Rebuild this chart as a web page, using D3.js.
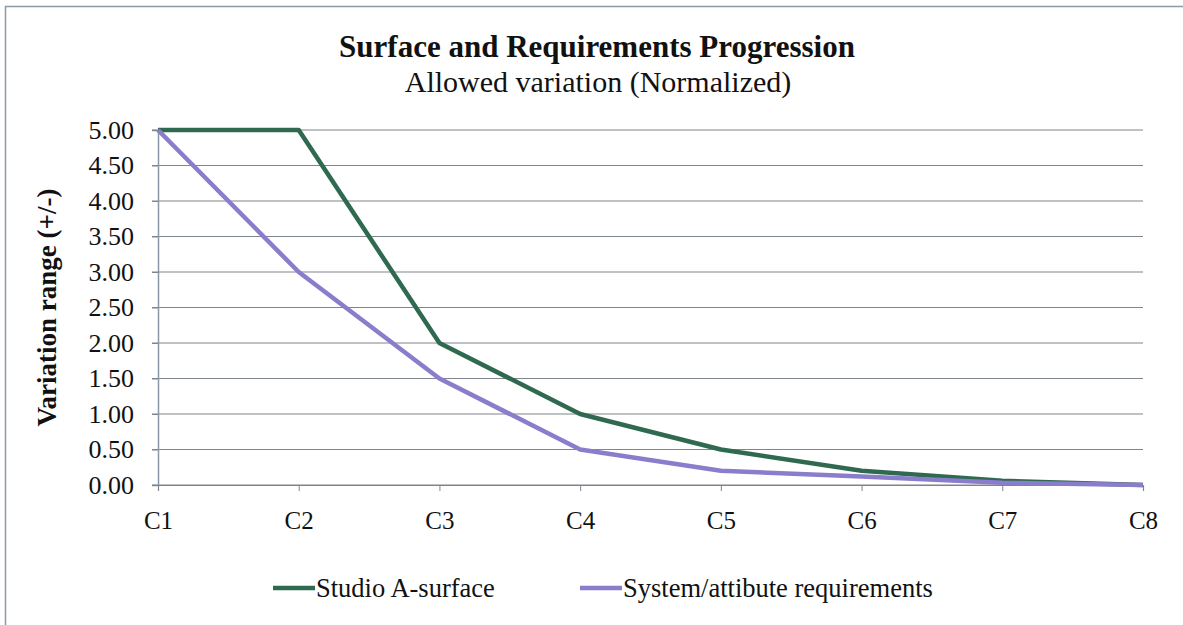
<!DOCTYPE html>
<html>
<head>
<meta charset="utf-8">
<script src="https://cdn.jsdelivr.net/npm/d3@7/dist/d3.min.js"></script>
<style>
  html, body { margin: 0; padding: 0; background: #fff; }
  svg { display: block; }
  text { font-family: "Liberation Serif", "Times New Roman", serif; fill: #111; }
</style>
</head>
<body>
<svg id="chart" width="1183" height="625"></svg>
<script>
// Categories and series values
const categories = ["C1", "C2", "C3", "C4", "C5", "C6", "C7", "C8"];
const studioSurface = [5.0, 5.0, 2.0, 1.0, 0.5, 0.2, 0.06, 0.0];
const systemRequirements = [5.0, 3.0, 1.5, 0.5, 0.2, 0.12, 0.03, 0.0];
const yTickValues = [0, 0.5, 1, 1.5, 2, 2.5, 3, 3.5, 4, 4.5, 5];
const seriesNames = ["Studio A-surface", "System/attibute requirements"];
const seriesColors = ["#2f6a50", "#8a7dcc"];

const serif = "'Liberation Serif', 'Times New Roman', serif";
const svg = d3.select("#chart");

// Outer frame
svg.append("rect")
  .attr("x", 5.5).attr("y", 6.5)
  .attr("width", 1200).attr("height", 640)
  .attr("fill", "none")
  .attr("stroke", "#8d9aa6")
  .attr("stroke-width", 1.5);

const plot = { left: 158, right: 1143, top: 130, bottom: 485 };

const x = d3.scalePoint().domain(categories).range([plot.left, plot.right]);
const y = d3.scaleLinear().domain([0, 5]).range([plot.bottom, plot.top]);

// Horizontal gridlines
svg.append("g")
  .selectAll("line")
  .data(yTickValues)
  .join("line")
  .attr("x1", plot.left - 6).attr("x2", plot.right)
  .attr("y1", d => y(d)).attr("y2", d => y(d))
  .attr("stroke", "#7f858c")
  .attr("stroke-width", 1.2);

// Y axis
const yAxis = svg.append("g")
  .attr("transform", `translate(${plot.left},0)`)
  .call(d3.axisLeft(y).tickValues(yTickValues).tickFormat(d3.format(".2f")).tickSize(6).tickPadding(18));
yAxis.select(".domain").attr("stroke", "#8a97a4").attr("stroke-width", 1.5);
yAxis.selectAll(".tick line").attr("stroke", "#7f858c");
yAxis.selectAll("text").style("font-size", "26px").attr("fill", "#111")
  .style("font-family", serif);

// X axis
const xAxis = svg.append("g")
  .attr("transform", `translate(0,${plot.bottom})`)
  .call(d3.axisBottom(x).tickSize(6).tickPadding(20));
xAxis.select(".domain").attr("stroke", "#7f858c").attr("stroke-width", 1.2);
xAxis.selectAll(".tick line").attr("stroke", "#7f858c");
xAxis.selectAll("text").style("font-size", "25px").attr("fill", "#111")
  .style("font-family", serif);

// Series lines (requirements drawn last so it stays visible where they merge)
const line = d3.line().x((d, i) => x(categories[i])).y(d => y(d));
[studioSurface, systemRequirements].forEach((vals, k) => {
  svg.append("path")
    .datum(vals)
    .attr("d", line)
    .attr("fill", "none")
    .attr("stroke", seriesColors[k])
    .attr("stroke-width", 4.5)
    .attr("stroke-linejoin", "round");
});

// Titles
svg.append("text")
  .attr("x", 597).attr("y", 57)
  .attr("text-anchor", "middle")
  .style("font-size", "31px").style("font-weight", "bold")
  .text("Surface and Requirements Progression");
svg.append("text")
  .attr("x", 598).attr("y", 92)
  .attr("text-anchor", "middle")
  .style("font-size", "30px")
  .text("Allowed variation (Normalized)");

// Y axis title
svg.append("text")
  .attr("transform", `translate(56,${(plot.top + plot.bottom) / 2}) rotate(-90)`)
  .attr("text-anchor", "middle")
  .style("font-size", "27px").style("font-weight", "bold")
  .text("Variation range (+/-)");

// Legend
const legendItems = [
  { name: seriesNames[0], color: seriesColors[0], x0: 273 },
  { name: seriesNames[1], color: seriesColors[1], x0: 580 }
];
const legend = svg.append("g");
legendItems.forEach(it => {
  legend.append("line")
    .attr("x1", it.x0).attr("x2", it.x0 + 42)
    .attr("y1", 588).attr("y2", 588)
    .attr("stroke", it.color).attr("stroke-width", 4.5);
  legend.append("text")
    .attr("x", it.x0 + 43).attr("y", 597)
    .style("font-size", "26.5px")
    .text(it.name);
});
</script>
</body>
</html>
